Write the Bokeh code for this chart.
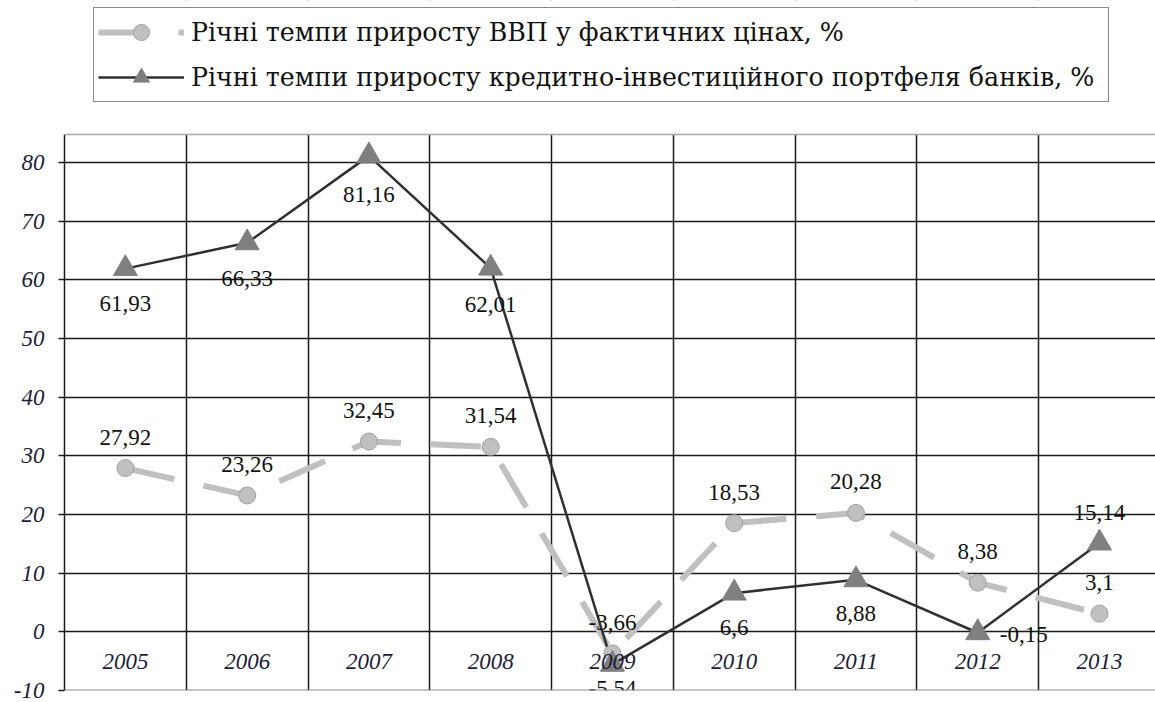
from bokeh.plotting import figure
from bokeh.models import (ColumnDataSource, FixedTicker, Range1d, Legend, LegendItem,
                          BoxAnnotation, Span)
from bokeh.core.properties import value
from bokeh.embed import file_html
from bokeh.resources import INLINE

# ---- data ----
years = ["2005", "2006", "2007", "2008", "2009", "2010", "2011", "2012", "2013"]
gdp_growth = [27.92, 23.26, 32.45, 31.54, -3.66, 18.53, 20.28, 8.38, 3.1]
credit_growth = [61.93, 66.33, 81.16, 62.01, -5.54, 6.6, 8.88, -0.15, 15.14]
y_ticks = [-10, 0, 10, 20, 30, 40, 50, 60, 70, 80]
gdp_name = "Річні темпи приросту ВВП у фактичних цінах, %"
credit_name = "Річні темпи приросту кредитно-інвестиційного портфеля банків, %"

# ---- axis extents and label placement (style) ----
plot_top = 84.8          # top of the plotting area (value units)
canvas_top = 107.65      # canvas top, leaves room for the legend above the plotting area
SERIF = "Liberation Serif"
gdp_dx = [0] * 9
gdp_dy = [-31] * 9
gdp_align = ["center"] * 9
credit_dx = [0, 0, 0, 0, 0, 0, 0, 22, 0]
credit_dy = [35, 36, 39, 36, 24, 34, 34, 2, -31]
credit_align = ["center"] * 7 + ["left", "center"]

def fmt(v):
    return str(v).replace(".", ",")

xc = [i + 0.5 for i in range(len(years))]

src_gdp = ColumnDataSource(dict(x=xc, y=gdp_growth, lab=[fmt(v) for v in gdp_growth],
                                dx=gdp_dx, dy=gdp_dy, al=gdp_align))
src_cr = ColumnDataSource(dict(x=xc, y=credit_growth, lab=[fmt(v) for v in credit_growth],
                               dx=credit_dx, dy=credit_dy, al=credit_align))
src_years = ColumnDataSource(dict(x=xc, y=[(y_ticks[0] + y_ticks[1]) / 2] * len(years), lab=years))

p = figure(width=1155, height=702, output_backend="svg", toolbar_location=None,
           x_range=Range1d(0, 8.96), y_range=Range1d(y_ticks[0], canvas_top),
           min_border_left=64, min_border_right=0, min_border_top=0, min_border_bottom=12)
p.background_fill_color = "white"
p.border_fill_color = "white"
p.outline_line_color = None

# axes / grid
p.xaxis.visible = False
p.xaxis.ticker = FixedTicker(ticks=list(range(len(years) + 1)))
p.xgrid.ticker = FixedTicker(ticks=list(range(len(years) + 1)))
p.xgrid.grid_line_color = "#1a1a1a"
p.xgrid.grid_line_width = 1.5

p.yaxis.ticker = FixedTicker(ticks=y_ticks)
p.yaxis.bounds = (y_ticks[0], plot_top)
p.yaxis.major_label_overrides = {t: str(t) for t in y_ticks}
p.ygrid.ticker = FixedTicker(ticks=y_ticks)
p.ygrid.grid_line_color = "#1a1a1a"
p.ygrid.grid_line_width = 1.5
p.yaxis.axis_line_color = "#1a1a1a"
p.yaxis.axis_line_width = 1.5
p.yaxis.major_tick_out = 6
p.yaxis.major_tick_in = 0
p.yaxis.major_tick_line_color = "#1a1a1a"
p.yaxis.major_tick_line_width = 1.5
p.yaxis.minor_tick_line_color = None
p.yaxis.major_label_standoff = 14
p.yaxis.major_label_text_font = SERIF
p.yaxis.major_label_text_font_style = "italic"
p.yaxis.major_label_text_font_size = "23px"
p.yaxis.major_label_text_color = "#1c1c3a"

# blank area above the plotting area (holds the legend)
p.add_layout(BoxAnnotation(bottom=plot_top, fill_color="white", fill_alpha=1,
                           line_color=None, level="annotation"))
p.add_layout(Span(location=plot_top, dimension="width", line_color="#a6a6a6", line_width=1.5))
p.add_layout(Span(location=y_ticks[0], dimension="width", line_color="#8c8c8c", line_width=1.8))

# series
gdp_line = p.line("x", "y", source=src_gdp, line_color="#c0c0c0", line_width=6,
                  line_dash="50 30")
cr_line = p.line("x", "y", source=src_cr, line_color="#303030", line_width=2.5)
gdp_pts = p.scatter("x", "y", source=src_gdp, marker="circle", size=17,
                    fill_color="#c0c0c0", line_color="#a0a0a0", line_width=1)
cr_pts = p.scatter("x", "y", source=src_cr, marker="triangle", size=24,
                   fill_color="#7f7f7f", line_color="#7f7f7f", line_width=1)

# year labels inside plot
p.text("x", "y", text="lab", source=src_years, text_font=value(SERIF),
       text_font_style="italic", text_font_size="23px", text_align="center",
       text_baseline="middle", text_color="#1c1c3a")

# data labels
for src in (src_gdp, src_cr):
    p.text("x", "y", text="lab", source=src, x_offset="dx", y_offset="dy",
           text_align="al", text_baseline="middle", text_font=value(SERIF),
           text_font_size="23px", text_color="#111111")

legend = Legend(items=[LegendItem(label=gdp_name, renderers=[gdp_line, gdp_pts]),
                       LegendItem(label=credit_name, renderers=[cr_line, cr_pts])],
                location=(29, 588))
legend.margin = 0
legend.padding = 4
legend.spacing = 5
legend.glyph_width = 86
legend.glyph_height = 40
legend.label_height = 40
legend.label_width = 913
legend.label_standoff = 7
legend.label_text_font = "DejaVu Serif"
legend.label_text_font_size = "25.3px"
legend.label_text_color = "#111111"
legend.label_text_baseline = "middle"
legend.border_line_color = "#111111"
legend.border_line_width = 1.5
legend.background_fill_color = "white"
legend.background_fill_alpha = 1
p.add_layout(legend, "center")

open("out.html", "w").write(file_html(p, INLINE))
